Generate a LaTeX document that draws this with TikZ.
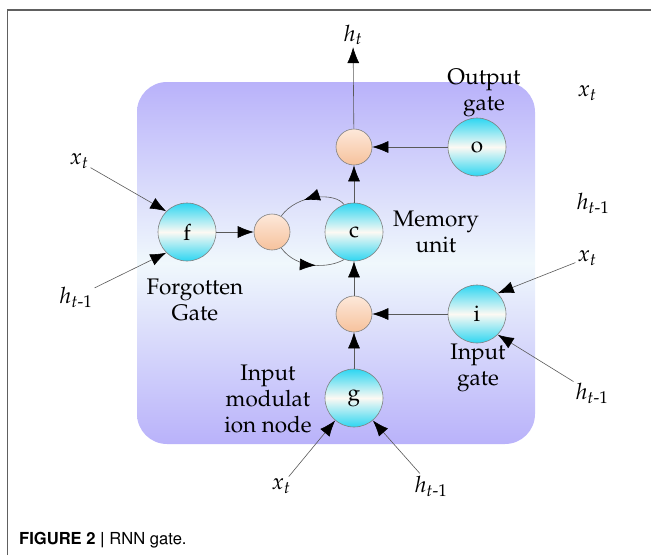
\documentclass[tikz,border=0pt]{standalone}
\usepackage[T1]{fontenc}
\usepackage{mathpazo}
\usepackage[scaled=0.92]{helvet}
\usepackage{amsmath}
\usetikzlibrary{arrows.meta,decorations.markings}
\definecolor{bgpurple}{RGB}{185,178,250}
\definecolor{bglight}{RGB}{240,248,252}
\definecolor{gcyan}{RGB}{46,214,242}
\definecolor{gwhite}{RGB}{252,249,243}
\definecolor{otop}{RGB}{253,232,218}
\definecolor{obot}{RGB}{246,194,156}
\definecolor{framegray}{RGB}{96,96,96}
\tikzset{
  txt/.style={font=\fontsize{22.5}{26}\selectfont, inner sep=2pt},
  lbl/.style={txt, align=center},
  gate/.style={circle, draw=black!50, line width=0.6pt, minimum size=58pt, inner sep=0pt,
    top color=gcyan, bottom color=gcyan, middle color=gwhite, txt},
  mult/.style={circle, draw=black!50, line width=0.6pt, minimum size=36pt, inner sep=0pt,
    top color=otop, bottom color=obot},
  tip/.tip={Latex[length=16pt,width=12pt,color=black]},
  arr/.style={draw=black!65, line width=0.6pt, -tip},
  plain/.style={draw=black!65, line width=0.6pt},
  midarrow/.style={postaction={decorate}, decoration={markings, mark=at position #1 with {\arrow{tip}}}}
}
\begin{document}
\begin{tikzpicture}[x=1pt,y=-1pt]
\useasboundingbox (0,0) rectangle (651,555);
\draw[framegray, line width=1.3pt] (7.5,555) -- (7.5,10) -- (651,10);
\path[rounded corners=30pt, top color=bgpurple, bottom color=bgpurple, middle color=bglight]
  (137,82) rectangle (535,444);
% gates
\node[gate] (f) at (187,232) {f};
\node[gate] (c) at (354,232) {c};
\node[gate] (o) at (477,147) {o};
\node[gate] (i) at (477,314) {i};
\node[gate] (g) at (354,398) {g};
\node[mult] (m1) at (272,232) {};
\node[mult] (m2) at (354,147) {};
\node[mult] (m3) at (354,314) {};
% text labels
\node[lbl] (outlbl) at (484,93) {Output\\gate};
\node[lbl] (memlbl) at (436,232) {Memory\\unit};
\node[lbl] (forglbl) at (195,300) {Forgotten\\Gate};
\node[lbl] (inlbl) at (478,368) {Input\\gate};
\node[lbl] (imlbl) at (268,399) {Input\\modulat\\ion node};
% math labels
\node[txt] (ht) at (353,35) {$h_t$};
\node[txt] (xf) at (79,161) {$x_t$};
\node[txt] (hf) at (76,297) {$h_{t\text{-}1}$};
\node[txt] (xo) at (587,93) {$x_t$};
\node[txt] (ho) at (593,203) {$h_{t\text{-}1}$};
\node[txt] (xi) at (587,258) {$x_t$};
\node[txt] (hi) at (592,393) {$h_{t\text{-}1}$};
\node[txt] (xg) at (281,486) {$x_t$};
\node[txt] (hg) at (431,486) {$h_{t\text{-}1}$};
% connectors
\draw[arr] (m2) -- (ht);
\draw[arr] (o) -- (m2);
\draw[arr] (c) -- (m2);
\draw[arr] (f) -- (m1);
\draw[arr] (m3) -- (c);
\draw[arr] (i) -- (m3);
\draw[arr] (g) -- (m3);
\draw[arr] (xf) -- (f.135);
\draw[arr] (hf) -- (f.225);
\draw[arr] (xi) -- (i.45);
\draw[arr] (hi) -- (i.-45);
\draw[arr] (xg) -- (g.230);
\draw[arr] (hg) -- (g.-50);
\draw[plain, midarrow=0.6] (c.110) .. controls (335,192) and (297,194) .. (m1.60);
\draw[plain, midarrow=0.58] (m1.-60) .. controls (297,270) and (330,268) .. (c.-110);
% caption
\node[anchor=west, inner sep=0pt, font=\fontsize{18}{21}\selectfont\sffamily] (cap) at (19,540)
  {\textbf{FIGURE 2 |} RNN gate.};
\end{tikzpicture}
\end{document}
